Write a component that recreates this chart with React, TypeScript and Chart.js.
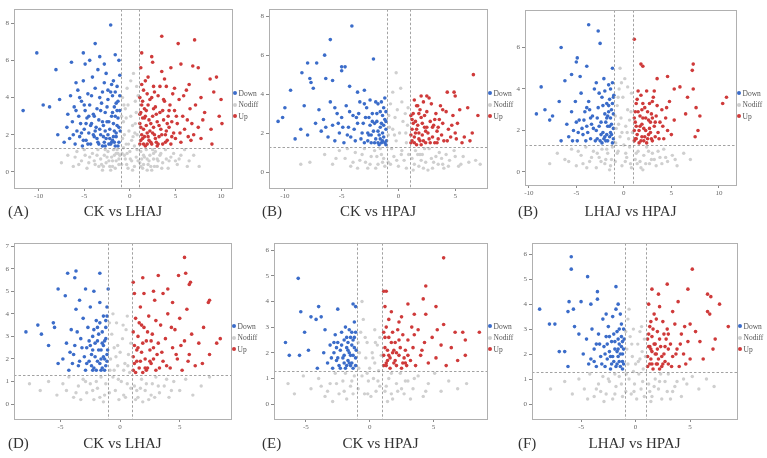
import React, { useEffect, useRef } from "react";
import { Chart, registerables } from "chart.js";
Chart.register(...registerables);

// ---------- data (flat x,y pairs: log2FC, -log10 p) ----------
const A_DOWN = [-11.7,3.3,-10.2,6.4,-9.5,3.6,-8.8,3.5,-8.1,5.5,-7.9,2.0,-7.7,3.9,-6.4,5.9,-5.9,4.8,-5.1,6.4,-4.9,5.8,-3.8,6.9,-3.3,6.2,-2.1,7.9,-1.6,6.3,-2.8,5.8,
-7.2,1.6,-6.9,2.4,-6.8,3.1,-6.6,1.8,-6.5,4.1,-6.3,2.7,-6.1,3.5,-6.0,1.5,-5.8,2.2,-5.7,4.4,-5.6,3.0,-5.5,1.9,-5.4,2.6,-5.3,3.8,-5.2,1.4,-5.1,4.9,-5.0,2.3,-4.9,3.3,-4.8,1.7,-4.7,2.9,-4.6,4.2,-4.5,2.1,-4.4,3.6,-4.3,1.5,-4.2,2.6,-4.1,5.1,-4.0,3.1,-3.9,1.9,-3.8,4.5,-3.7,2.4,-3.6,3.4,-3.5,1.6,-3.4,2.8,-3.3,4.0,-3.2,2.0,-3.1,3.7,-3.0,1.4,-2.9,2.5,-2.8,4.8,-2.7,3.2,-2.6,1.8,-2.5,2.7,-2.4,3.9,-2.3,1.5,-2.2,2.3,-2.1,4.3,-2.0,3.0,-1.9,1.7,-1.8,2.6,-1.7,3.5,-1.6,1.4,-1.5,2.1,-1.4,4.6,-1.3,2.9,-1.2,1.6,-1.1,3.3,-1.05,2.2,-1.1,5.2,-1.3,3.8,-1.5,1.9,-1.7,2.2,-2.0,1.6,-2.4,2.0,-2.8,1.6,-3.3,2.3,-3.8,2.2,-4.3,2.5,-4.8,2.6,-5.3,2.1,-1.9,4.1,-2.6,5.3,-3.5,5.5,-4.4,6.0,-1.2,6.0,-1.4,2.5,-1.8,1.9,-2.2,1.8,-2.7,2.2,-3.0,2.7,-1.6,3.0,
-5.9,3.3,-5.5,4.0,-5.0,3.6,-4.6,1.5,-4.2,4.1,-3.9,3.0,-3.6,1.8,-3.2,3.3,-2.9,1.9,-2.5,3.5,-2.3,2.7,-2.1,1.5,-1.9,3.2,-1.7,1.6,-1.5,3.7,-1.3,1.4,-1.2,2.4,-1.1,4.1,-1.4,3.3,-1.6,4.3,-2.0,4.7,-2.4,4.4,-3.0,4.3,-3.4,1.5,-4.0,2.0,-4.5,3.0,-5.1,1.7,-6.2,2.0,-1.8,4.9,-2.7,1.4];
const A_UP = [3.5,7.3,5.3,6.9,7.1,7.1,2.4,6.2,1.3,6.4,5.6,5.8,6.9,5.7,7.5,5.6,8.8,5.0,9.5,5.1,9.2,4.3,10.0,3.9,9.8,3.0,10.1,2.6,8.9,2.3,9.0,1.5,8.2,3.2,7.8,4.0,7.0,2.0,6.5,4.7,
1.1,1.5,1.2,2.4,1.3,3.6,1.4,1.8,1.5,4.4,1.6,2.9,1.7,1.4,1.8,3.3,1.9,2.1,2.0,5.1,2.1,1.7,2.2,3.9,2.3,2.6,2.4,1.5,2.5,3.0,2.6,4.6,2.7,2.0,2.8,3.5,2.9,1.6,3.0,2.7,3.1,4.1,3.2,1.9,3.3,3.2,3.4,2.3,3.5,5.4,3.6,1.5,3.7,2.8,3.8,3.8,3.9,2.0,4.0,4.6,4.1,1.7,4.2,3.0,4.3,2.4,4.4,3.6,4.5,1.5,4.6,2.7,4.7,4.2,4.8,2.1,4.9,3.3,5.0,1.8,5.2,2.6,5.4,3.9,5.6,1.6,5.8,3.0,6.0,2.3,6.2,4.4,6.4,1.9,6.6,3.4,6.8,2.6,7.2,3.6,7.5,2.4,7.8,1.8,8.0,2.8,1.1,4.0,1.2,5.6,1.3,2.0,1.5,2.3,1.6,3.4,1.9,1.5,2.2,2.2,2.4,4.0,2.8,1.8,3.2,2.5,3.6,3.3,1.4,2.9,1.8,2.5,2.0,1.9,2.6,2.4,3.0,1.4,4.0,2.2,1.1,3.1,1.7,4.9,2.5,5.9,3.8,5.0,4.5,5.6,
1.1,2.6,1.2,1.7,1.3,4.7,1.4,3.8,1.6,1.9,1.7,3.0,1.9,4.2,2.1,2.8,2.3,1.6,2.5,2.1,2.7,4.3,2.9,3.1,3.1,1.5,3.3,4.6,3.5,2.0,3.7,3.9,3.9,1.6,4.1,2.6,4.3,3.3,4.6,1.9,4.9,4.5,5.1,3.0,5.5,2.1,5.9,4.1,6.3,2.8,6.7,1.7,1.2,3.2,1.5,1.5,2.0,3.6,2.6,3.4];
const A_NODIFF = [-0.9,0.4,-0.8,1.8,-0.7,2.7,-0.6,0.9,-0.5,3.4,-0.4,1.5,-0.3,4.5,-0.2,0.2,-0.1,2.2,0.0,1.1,0.1,3.0,0.2,0.6,0.3,2.5,0.4,5.3,0.5,1.4,0.6,3.8,0.7,0.8,0.8,2.0,0.9,4.1,-0.9,3.0,-0.6,2.0,-0.3,1.0,0.2,1.7,0.5,0.3,0.8,1.2,-0.8,4.0,0.6,2.6,-0.4,2.9,0.1,4.9,0.3,0.1,-0.7,1.3,0.9,0.6,-0.2,3.6,0.7,3.2,-0.5,0.7,
-7.5,0.5,-6.8,0.9,-6.2,0.3,-5.8,1.1,-5.3,0.6,-5.0,1.2,-4.7,0.2,-4.4,0.8,-4.1,1.0,-3.8,0.4,-3.5,1.2,-3.2,0.7,-3.0,0.1,-2.8,0.9,-2.6,0.5,-2.4,1.1,-2.2,0.3,-2.0,0.8,-1.8,1.2,-1.6,0.2,-1.5,0.6,-1.3,1.0,-1.2,0.4,-1.1,0.9,1.1,0.5,1.2,1.1,1.4,0.2,1.6,0.8,1.8,1.2,2.0,0.4,2.2,0.9,2.4,0.1,2.6,0.7,2.8,1.1,3.0,0.3,3.3,0.9,3.6,0.5,3.9,1.2,4.2,0.2,4.5,0.8,4.8,1.0,5.2,0.4,5.6,0.9,6.0,1.2,6.5,0.6,7.0,0.9,7.6,0.3,-3.4,0.3,-2.1,0.1,-1.9,0.6,-1.4,1.2,1.5,0.4,1.9,0.1,2.5,1.2,3.1,0.6,4.0,0.7,-4.9,0.9,-3.9,0.6,-2.9,0.3,-2.5,0.8,-1.7,0.9,1.3,0.7,2.1,0.6,2.7,0.3,3.4,1.0,5.0,0.6,
-4.5,0.5,-3.6,0.9,-3.1,0.4,-2.7,1.2,-2.3,0.6,-1.9,0.3,-1.5,1.0,-1.2,0.7,1.2,0.3,1.5,0.9,1.9,0.7,2.3,0.3,2.6,1.0,3.0,0.7,3.5,0.2,4.3,0.6,5.4,0.7,-5.6,0.4,-0.85,1.0,-0.35,0.4,0.35,1.9,0.75,4.6,-0.65,3.6,0.05,0.7,-0.15,1.5,0.55,2.1,-6.0,0.8,6.3,0.3];

const B_DOWN = [-4.1,7.5,-6.0,6.8,-6.5,6.0,-7.2,5.6,-8.0,5.6,-2.2,5.8,-5.0,5.4,-4.7,5.4,-5.0,5.2,-6.4,4.8,-5.8,4.7,-8.5,5.1,-7.8,4.8,-7.7,4.6,-9.5,4.2,-10.0,3.3,-10.2,2.8,-10.6,2.6,-9.1,1.7,-8.6,2.2,-8.3,3.4,-7.5,4.3,-4.3,4.4,-3.0,4.2,-3.6,4.1,
-7.0,3.2,-6.8,2.1,-6.6,2.7,-6.2,1.8,-6.0,3.6,-5.8,2.4,-5.6,1.6,-5.4,3.0,-5.2,2.0,-5.0,2.8,-4.8,1.5,-4.6,3.4,-4.4,2.3,-4.2,1.8,-4.0,2.9,-3.8,1.6,-3.6,2.5,-3.4,3.6,-3.2,2.0,-3.0,1.5,-2.9,2.8,-2.8,3.3,-2.6,1.9,-2.5,2.4,-2.4,1.5,-2.3,3.0,-2.2,2.1,-2.0,1.7,-1.9,2.6,-1.8,3.5,-1.7,1.9,-1.6,2.3,-1.5,1.5,-1.4,2.9,-1.3,1.8,-1.2,3.8,-1.1,2.2,-1.05,1.6,-1.2,2.7,-1.4,2.0,-1.6,3.1,-1.8,1.5,-2.1,2.5,-2.7,2.0,-3.3,1.7,-3.9,2.2,-4.5,1.9,-5.3,2.5,-7.3,2.5,-8.0,1.9,-2.0,3.6,-1.3,3.3,-3.5,3.0,-2.4,1.9,-1.7,1.4,-1.1,1.4,-1.5,2.5,-2.6,2.8,
-2.1,1.5,-1.9,3.0,-1.6,1.7,-1.3,2.4,-1.2,1.5,-1.1,3.1,-1.5,3.6,-2.3,2.6,-2.7,1.6,-3.1,2.5,-3.7,2.8,-4.3,3.1,-4.9,2.3,-5.6,3.3,-6.4,2.3,-2.5,3.7,-1.8,2.1,-3.0,3.5,-1.4,1.6,-1.1,2.6];
const B_UP = [6.6,5.0,4.3,4.1,4.9,4.1,5.0,3.9,2.5,3.9,7.0,2.9,6.5,2.0,6.3,1.6,6.1,3.3,5.2,2.5,5.8,1.8,
1.1,1.5,1.2,2.2,1.3,3.0,1.4,1.8,1.5,2.6,1.6,1.4,1.7,3.4,1.8,2.0,1.9,1.6,2.0,2.8,2.1,1.9,2.2,3.6,2.3,2.3,2.4,1.5,2.5,3.1,2.6,2.0,2.7,1.7,2.8,2.6,2.9,3.5,3.0,1.8,3.1,2.4,3.2,1.5,3.3,3.0,3.4,2.1,3.5,1.7,3.6,2.7,3.7,3.4,3.8,1.9,3.9,2.5,4.0,1.6,4.2,3.1,4.4,2.2,4.6,1.8,4.8,2.9,5.0,2.0,5.4,3.2,5.6,1.5,1.1,2.9,1.2,1.6,1.4,3.7,1.5,2.0,1.7,2.4,2.0,1.4,2.3,2.9,2.7,3.8,3.0,2.3,1.3,2.5,1.8,1.7,1.9,3.2,2.4,2.1,
1.1,1.9,1.2,2.7,1.4,1.5,1.6,2.2,1.8,3.0,2.1,2.5,2.2,1.6,2.5,2.3,2.8,1.5,3.2,2.7,3.5,2.3,3.9,3.2,4.3,1.6,4.7,2.4,5.1,1.7,1.6,3.4,2.0,3.9,3.4,1.5];
const B_NODIFF = [-0.9,0.5,-0.8,2.3,-0.7,3.5,-0.6,1.2,-0.5,4.1,-0.4,0.8,-0.3,2.8,-0.2,1.6,-0.1,3.2,0.0,0.3,0.1,2.0,0.2,4.3,0.3,1.1,0.4,2.6,0.5,0.6,0.6,3.0,0.7,1.5,0.8,2.4,0.9,0.9,-0.9,1.9,-0.5,2.2,-0.2,5.1,0.3,3.6,0.7,0.2,-0.7,0.4,
-8.6,0.4,-7.8,0.5,-6.5,0.9,-5.8,0.4,-5.2,1.1,-4.7,0.7,-4.2,0.3,-3.8,1.0,-3.4,0.6,-3.0,1.2,-2.7,0.2,-2.4,0.8,-2.1,1.1,-1.8,0.4,-1.5,0.9,-1.2,0.3,1.2,0.7,1.5,1.1,1.8,0.3,2.1,0.9,2.4,0.5,2.7,1.2,3.0,0.2,3.3,0.8,3.6,1.0,3.9,0.4,4.2,0.9,4.5,0.6,4.9,1.1,5.3,0.3,5.7,0.8,6.2,0.5,6.8,0.6,7.2,0.4,-2.9,0.5,-2.0,0.2,-1.6,1.2,1.3,0.1,2.0,0.6,2.6,0.1,3.1,0.5,3.8,0.7,-4.5,1.2,-3.6,0.2,-1.3,0.7,1.7,0.9,2.3,1.2,4.0,0.2,-5.5,0.7,5.0,0.8,
-3.2,0.9,-2.5,0.4,-1.9,0.8,-1.4,0.5,1.4,0.4,1.9,0.9,2.2,0.2,2.9,0.7,3.5,0.4,4.4,0.3,-4.0,0.5,-0.85,2.9,-0.35,1.9,0.25,0.9,0.65,2.0,0.85,3.3,-0.15,0.6,5.5,0.4];

const C_DOWN = [-3.7,7.1,-2.7,6.8,-2.5,6.2,-6.6,6.0,-4.9,5.5,-5.0,5.3,-3.9,5.1,-1.2,5.0,-5.5,4.7,-6.2,4.4,-8.7,4.1,-9.2,2.8,-8.3,3.0,-7.8,2.5,-7.5,2.7,-6.8,3.4,-4.6,4.6,-2.1,4.5,-2.9,4.3,
-6.6,1.5,-6.0,2.3,-5.8,1.7,-5.5,2.9,-5.3,2.0,-5.1,3.4,-4.9,1.5,-4.7,2.5,-4.5,3.8,-4.3,1.8,-4.1,2.9,-3.9,2.2,-3.7,3.4,-3.5,1.6,-3.3,2.7,-3.1,4.0,-2.9,2.0,-2.7,3.1,-2.5,1.5,-2.4,2.4,-2.3,3.6,-2.2,1.9,-2.0,2.8,-1.9,1.5,-1.8,3.3,-1.7,2.2,-1.6,4.2,-1.5,1.7,-1.4,2.6,-1.3,3.0,-1.2,1.4,-1.1,2.1,-1.05,3.7,-1.2,4.3,-1.4,1.9,-1.6,2.9,-1.9,2.4,-2.1,1.6,-2.6,2.2,-3.0,1.5,-3.4,2.3,-3.8,1.9,-4.4,2.1,-5.0,2.4,-1.1,1.6,-1.3,2.3,-1.5,3.5,-1.8,1.8,-2.8,2.6,-2.0,3.9,-3.6,3.0,-4.0,1.5,-2.3,1.4,-1.7,2.7,
-1.1,2.8,-1.2,3.3,-1.3,1.8,-1.4,4.0,-1.5,2.2,-1.7,1.5,-1.8,2.6,-2.0,1.7,-2.2,3.2,-2.4,1.8,-2.6,3.8,-2.8,1.6,-3.2,2.1,-3.5,2.6,-3.9,3.1,-4.2,2.5,-4.8,1.9,-5.4,1.5,-1.1,3.6,-1.6,3.2];
const C_UP = [10.8,3.6,10.4,3.3,7.3,5.2,7.2,4.9,5.9,4.1,7.3,4.0,7.6,3.1,8.0,2.7,7.8,2.0,7.5,1.7,6.5,2.8,6.7,3.6,2.0,5.1,3.5,4.5,4.6,4.6,5.3,4.0,1.1,6.4,1.8,5.2,
1.1,1.5,1.2,2.4,1.3,3.3,1.4,1.8,1.5,2.9,1.6,1.4,1.7,2.2,1.8,3.7,1.9,1.7,2.0,2.6,2.1,1.5,2.2,3.1,2.3,2.0,2.4,3.9,2.5,1.6,2.6,2.5,2.7,3.3,2.8,1.9,2.9,2.8,3.0,1.5,3.1,3.6,3.2,2.2,3.3,1.7,3.4,2.7,3.5,3.2,3.6,1.9,3.8,2.4,4.0,3.0,4.2,1.6,4.4,2.6,4.6,2.0,4.8,3.4,5.0,1.8,5.3,2.5,1.1,2.0,1.3,1.6,1.5,3.9,1.7,2.7,2.1,2.1,2.4,1.4,2.8,2.4,3.2,3.9,1.2,2.9,1.9,2.3,2.6,1.8,3.0,2.6,
1.1,2.6,1.2,1.6,1.4,3.5,1.6,2.0,1.8,1.5,2.0,3.3,2.2,1.7,2.5,2.9,2.7,2.1,3.0,3.4,3.3,2.4,3.7,1.6,4.1,2.2,4.5,3.1,1.3,2.2,1.9,3.0,2.3,2.6,2.9,1.6];
const C_NODIFF = [-0.9,0.5,-0.8,2.1,-0.7,3.2,-0.6,1.0,-0.5,4.0,-0.4,1.7,-0.3,2.6,-0.2,0.3,-0.1,3.6,0.0,1.3,0.1,4.5,0.2,2.2,0.3,0.7,0.4,3.0,0.5,1.6,0.6,2.5,0.7,0.4,0.8,3.8,0.9,1.9,-0.9,2.7,-0.6,3.6,-0.2,1.9,0.2,0.9,0.6,1.2,-0.4,5.0,0.4,4.1,-0.7,0.9,0.8,0.2,
-7.8,0.4,-7.0,0.9,-6.2,0.6,-5.5,1.1,-5.0,0.3,-4.5,0.8,-4.0,1.2,-3.6,0.5,-3.2,1.0,-2.9,0.2,-2.6,0.7,-2.3,1.1,-2.0,0.4,-1.7,0.9,-1.4,0.3,-1.2,1.2,1.2,0.6,1.5,1.0,1.8,0.2,2.1,0.8,2.4,1.2,2.7,0.4,3.0,0.9,3.4,0.3,3.8,0.7,4.2,1.1,4.6,0.5,5.1,0.8,5.6,0.3,6.3,0.9,7.0,0.6,-3.9,0.2,-2.8,0.9,-1.9,0.6,-1.5,0.1,1.4,0.4,2.0,0.1,2.6,1.0,3.2,0.6,-5.8,0.5,4.0,0.4,-4.8,1.0,
-3.4,0.7,-2.4,0.5,-1.8,1.1,-1.3,0.6,1.3,0.9,1.7,0.5,2.3,0.4,2.9,0.6,3.6,1.0,4.4,0.7,-4.3,0.4,-0.85,1.4,-0.25,4.3,0.35,1.9,0.75,2.9,-0.55,2.3,0.15,0.5,5.4,0.6];

const D_DOWN = [-4.4,5.8,-3.7,5.9,-1.7,5.8,-3.8,5.6,-5.2,5.1,-2.9,5.1,-7.9,3.2,-6.9,3.5,-6.6,3.1,-5.6,3.6,-5.5,3.4,-6.0,2.6,-5.2,1.8,-4.6,4.8,-2.2,5.0,-3.4,4.6,-1.0,5.1,
-4.8,2.0,-4.5,2.7,-4.3,1.5,-4.1,3.3,-3.9,2.2,-3.7,4.2,-3.5,1.7,-3.3,2.9,-3.1,3.8,-2.9,1.5,-2.8,2.5,-2.7,3.4,-2.6,1.9,-2.5,4.3,-2.4,2.2,-2.3,3.0,-2.2,1.6,-2.1,2.7,-2.0,3.7,-1.9,1.9,-1.8,2.4,-1.7,4.5,-1.6,1.5,-1.5,3.2,-1.4,2.1,-1.3,2.8,-1.2,1.7,-1.1,3.9,-1.05,2.4,-1.1,4.3,-1.2,3.4,-1.3,1.5,-1.4,2.6,-1.6,2.0,-1.8,3.1,-2.0,1.5,-2.3,2.4,-2.6,2.8,-3.0,2.1,-3.4,1.9,-3.8,2.6,-4.2,2.3,-1.1,1.9,-1.5,1.6,-1.9,2.8,-2.4,1.7,-1.2,2.9,-1.7,3.6,
-1.1,2.2,-1.2,3.7,-1.3,2.0,-1.5,2.7,-1.7,1.8,-1.9,3.4,-2.1,2.1,-2.3,1.5,-2.5,2.6,-2.8,1.8,-3.2,2.5,-3.6,3.2,-4.0,1.8,-1.4,3.9,-2.2,3.3,-1.6,2.4];
const D_UP = [5.4,6.5,5.5,5.8,3.2,5.7,1.9,5.6,4.9,5.7,5.9,5.4,5.8,5.3,7.4,4.5,7.5,4.6,8.4,2.9,8.1,2.7,7.5,2.2,6.9,1.8,1.1,5.4,4.0,5.1,2.8,5.0,
1.1,1.5,1.2,2.6,1.3,3.8,1.4,1.9,1.5,3.0,1.6,1.6,1.7,4.3,1.8,2.3,1.9,1.4,2.0,3.4,2.1,2.0,2.2,2.8,2.3,1.6,2.4,3.9,2.5,2.4,2.6,1.8,2.7,3.1,2.8,2.0,2.9,4.6,3.0,1.5,3.2,2.7,3.4,3.5,3.6,1.9,3.8,2.9,4.0,4.0,4.2,1.6,4.4,2.5,4.6,3.3,4.8,2.0,5.0,3.8,5.2,1.5,5.4,2.8,5.6,4.2,5.8,2.2,6.0,3.1,6.3,1.7,6.6,2.7,7.0,3.4,1.1,2.1,1.3,1.4,1.5,2.5,1.8,3.5,2.2,1.5,2.6,2.8,3.1,2.2,1.2,4.9,2.0,4.9,3.6,4.9,4.4,4.5,
1.1,3.2,1.2,1.8,1.4,2.4,1.6,3.6,1.7,1.9,1.9,2.7,2.1,1.6,2.3,3.2,2.5,1.9,2.8,2.5,3.0,3.7,3.3,1.6,3.5,2.3,3.9,1.7,4.3,3.4,4.7,2.2,5.1,2.6,5.7,1.9];
const D_NODIFF = [-0.9,0.5,-0.8,2.0,-0.7,3.1,-0.6,1.2,-0.5,2.5,-0.4,0.6,-0.3,3.6,-0.2,1.7,-0.1,0.2,0.0,2.3,0.1,1.0,0.2,2.9,0.3,0.4,0.4,1.8,0.5,3.3,0.6,0.9,0.7,2.2,0.8,1.4,0.9,2.7,-0.9,3.6,-0.6,4.0,0.6,3.9,-0.2,2.6,0.3,1.5,0.9,0.7,-0.5,1.5,
-7.6,0.9,-6.7,0.6,-6.0,1.0,-5.3,0.4,-4.8,0.9,-4.3,1.2,-3.9,0.3,-3.5,0.8,-3.1,1.1,-2.8,0.5,-2.5,0.9,-2.2,0.2,-1.9,0.7,-1.6,1.2,-1.3,0.4,1.2,0.8,1.5,0.3,1.8,1.1,2.1,0.6,2.4,0.2,2.7,0.9,3.0,1.2,3.3,0.5,3.7,0.8,4.1,0.3,4.5,1.0,5.0,0.6,5.5,1.1,6.1,0.4,6.8,0.8,7.5,1.2,-2.0,1.0,-1.4,0.1,1.4,0.6,1.9,0.1,2.9,0.3,-3.3,0.2,3.9,1.1,
-3.7,0.5,-2.9,1.0,-2.3,0.6,-1.7,0.3,-1.2,0.9,1.3,0.2,1.7,0.7,2.2,0.9,2.6,0.4,3.2,0.8,4.3,0.6,-0.85,1.5,-0.35,2.1,0.25,3.5,0.65,1.7,-0.15,1.1,0.45,0.3,-4.5,0.6];

const E_DOWN = [-5.6,4.9,-5.4,3.6,-4.0,3.8,-6.6,2.4,-6.3,1.9,-5.1,2.8,-5.5,1.9,-4.6,3.4,-4.2,3.3,-3.8,3.4,-2.5,3.7,-1.3,3.9,-1.1,3.8,-4.1,1.4,-4.8,2.1,-3.5,2.9,
-3.3,1.6,-3.1,2.3,-2.9,1.4,-2.8,2.0,-2.7,2.7,-2.6,1.7,-2.5,2.4,-2.4,1.5,-2.3,2.1,-2.2,2.8,-2.1,1.8,-2.0,2.5,-1.9,1.4,-1.8,2.2,-1.7,1.7,-1.6,2.9,-1.5,1.5,-1.4,2.3,-1.3,1.9,-1.2,2.6,-1.1,1.5,-1.05,2.1,-1.2,3.2,-1.4,1.6,-1.6,2.0,-1.8,1.5,-2.0,1.9,-2.3,1.4,-2.6,2.2,-1.1,2.8,-1.3,1.4,-1.5,2.6,-1.7,2.4,-1.9,3.0,-3.6,2.0,-3.0,1.8,
-1.1,1.8,-1.2,2.2,-1.4,2.8,-1.6,1.6,-1.8,2.6,-2.0,1.6,-2.2,2.3,-2.5,1.8,-2.8,2.4,-1.3,2.5,-1.5,1.9,-1.7,2.1];
const E_UP = [5.8,5.7,4.4,4.6,4.2,4.1,5.2,3.8,3.0,3.9,1.1,4.4,1.3,4.4,8.6,2.8,7.5,2.5,7.3,2.8,6.7,2.8,7.5,1.9,6.4,2.2,6.9,1.7,5.8,3.1,5.3,2.9,3.5,3.5,4.4,3.5,2.3,3.2,
1.1,1.5,1.2,2.2,1.3,3.0,1.4,1.7,1.5,2.6,1.6,1.4,1.7,3.6,1.8,2.0,1.9,1.6,2.0,2.4,2.1,1.5,2.2,2.9,2.3,1.9,2.4,2.2,2.5,1.4,2.6,2.7,2.7,1.8,2.8,2.1,2.9,1.5,3.0,2.5,3.2,1.7,3.4,2.2,3.6,1.5,3.8,2.9,4.0,1.9,4.3,2.4,4.6,1.6,4.9,2.6,5.2,1.8,5.6,2.3,6.0,1.5,1.1,2.8,1.3,1.6,1.5,1.9,1.8,2.8,2.1,2.0,2.5,3.4,2.8,1.6,3.3,3.0,1.2,3.8,
1.1,1.9,1.2,2.6,1.4,2.1,1.6,1.8,1.7,2.4,1.9,2.1,2.0,1.7,2.3,2.5,2.6,1.6,3.0,1.9,3.5,2.7,4.1,2.1,1.3,1.5,1.5,3.3];
const E_NODIFF = [-0.9,0.6,-0.8,2.0,-0.7,2.8,-0.6,1.1,-0.5,3.3,-0.4,0.4,-0.3,1.8,-0.2,2.4,-0.1,0.9,0.0,1.4,0.1,0.3,0.2,2.0,0.3,1.0,0.4,1.6,0.5,0.5,0.6,2.3,0.7,1.3,0.8,0.7,0.9,1.9,-0.9,2.4,-0.6,4.0,-0.2,1.2,0.4,2.9,0.8,2.6,
-6.4,0.8,-5.9,0.4,-5.2,1.1,-4.6,0.6,-4.0,1.0,-3.5,0.3,-3.1,0.8,-2.7,1.2,-2.4,0.4,-2.1,0.9,-1.8,0.2,-1.5,0.7,-1.2,1.1,1.2,0.5,1.5,1.0,1.8,0.2,2.1,0.8,2.4,1.2,2.7,0.4,3.0,0.9,3.4,0.6,3.8,1.1,4.2,0.3,4.6,0.8,5.1,1.2,5.6,0.5,6.2,0.9,6.9,0.6,7.6,0.8,-2.9,0.1,-1.9,1.2,1.4,0.1,2.5,0.6,3.2,0.2,-3.8,0.7,1.7,1.2,-1.3,0.4,
-3.3,0.5,-2.6,0.8,-2.0,0.5,-1.4,0.9,1.3,0.7,1.7,0.4,2.2,0.5,2.8,0.9,3.5,1.0,4.4,0.5,-0.85,1.4,-0.35,2.6,0.25,1.8,0.65,0.9,-0.15,0.4,0.45,2.4];

const F_DOWN = [-5.9,5.9,-5.9,5.4,-4.4,5.1,-1.8,4.7,-3.5,4.5,-8.8,3.8,-7.9,3.2,-7.4,3.2,-7.0,2.1,-6.5,2.1,-6.2,1.5,-6.1,4.1,-5.7,3.8,-5.0,4.1,-4.1,4.0,-3.5,4.2,-1.6,4.0,-6.2,3.7,-5.6,3.1,-5.2,2.8,
-4.8,2.0,-4.5,2.6,-4.3,1.6,-4.0,3.0,-3.8,2.2,-3.6,1.5,-3.4,2.8,-3.2,1.9,-3.0,3.4,-2.9,2.3,-2.8,1.5,-2.7,2.7,-2.6,1.8,-2.5,3.1,-2.4,2.1,-2.3,1.4,-2.2,2.5,-2.1,3.5,-2.0,1.7,-1.9,2.2,-1.8,1.5,-1.7,2.9,-1.6,1.9,-1.5,2.4,-1.4,1.5,-1.3,3.2,-1.2,2.0,-1.1,1.6,-1.05,2.6,-1.2,1.4,-1.3,2.3,-1.5,1.7,-1.7,2.1,-2.0,2.8,-2.3,1.9,-2.6,2.4,-3.1,1.6,-3.6,2.4,-4.1,1.8,-1.1,3.0,-1.4,3.6,-1.8,3.8,-2.7,3.6,
-1.1,2.2,-1.2,1.7,-1.3,2.7,-1.4,2.0,-1.6,2.6,-1.7,1.6,-1.9,2.5,-2.1,1.9,-2.4,2.7,-2.8,2.0,-3.3,2.4,-3.8,1.7,-1.2,2.5,-1.5,3.0,-2.2,1.6,-1.6,2.2];
const F_UP = [5.2,5.4,2.9,4.8,6.6,4.4,6.9,4.3,7.7,4.0,6.6,3.7,6.8,3.6,8.5,3.1,7.3,2.6,7.1,2.2,6.2,1.8,5.9,2.5,4.8,4.6,3.9,4.1,1.5,4.6,2.1,4.4,5.0,3.2,5.5,2.9,
1.1,1.5,1.2,2.3,1.3,3.1,1.4,1.8,1.5,2.7,1.6,1.4,1.7,3.6,1.8,2.0,1.9,1.6,2.0,2.9,2.1,1.8,2.2,3.9,2.3,2.3,2.4,1.5,2.5,3.3,2.6,2.0,2.7,1.7,2.8,2.6,2.9,3.0,3.0,1.6,3.2,2.4,3.4,1.9,3.6,3.2,3.8,2.2,4.0,1.5,4.2,2.8,4.4,2.0,4.6,1.6,4.8,2.5,5.0,1.8,1.1,2.6,1.2,4.0,1.3,1.6,1.5,2.1,1.7,2.4,1.9,3.4,2.2,1.4,2.6,2.8,3.0,2.2,3.4,3.7,1.4,3.3,2.0,2.2,
1.1,1.9,1.2,2.8,1.3,2.3,1.5,1.6,1.6,3.0,1.8,2.4,2.0,1.6,2.2,2.6,2.4,1.9,2.7,2.3,3.0,2.8,3.3,1.5,3.7,2.0,4.1,2.4,4.5,3.1,1.4,2.2,1.9,2.0,2.5,1.6];
const F_NODIFF = [-0.9,0.5,-0.8,2.2,-0.7,3.4,-0.6,1.0,-0.5,2.7,-0.4,0.4,-0.3,1.9,-0.2,3.0,-0.1,0.8,0.0,1.6,0.1,0.2,0.2,2.4,0.3,1.2,0.4,1.8,0.5,0.6,0.6,2.1,0.7,1.4,0.8,0.3,0.9,1.9,-0.9,2.9,-0.6,3.8,-0.2,1.3,0.4,2.9,0.8,2.6,-0.7,1.6,
-7.8,0.6,-6.5,0.9,-5.8,0.4,-5.2,1.0,-4.7,0.6,-4.2,1.2,-3.8,0.3,-3.4,0.8,-3.0,1.1,-2.7,0.4,-2.4,0.9,-2.1,0.2,-1.8,0.7,-1.5,1.1,-1.2,0.3,1.2,0.8,1.5,0.3,1.8,1.0,2.1,0.6,2.4,0.2,2.7,0.9,3.0,1.2,3.4,0.5,3.8,0.9,4.2,0.3,4.7,0.8,5.2,1.1,5.8,0.6,6.5,1.0,7.2,0.7,-2.9,0.1,-1.9,1.2,1.4,0.1,2.3,1.2,3.2,0.2,-3.6,0.6,-4.4,0.2,
-3.2,0.5,-2.5,1.0,-1.9,0.4,-1.3,0.8,1.3,0.5,1.7,0.7,2.2,0.9,2.9,0.5,3.6,0.7,4.4,1.0,-0.85,1.2,-0.35,2.4,0.25,1.7,0.65,0.9,-0.15,0.5,0.55,3.1];

const LEGEND_LABELS = ["Down", "Nodiff", "Up"];
const TAGS = ["(A)", "(B)", "(B)", "(D)", "(E)", "(F)"];
const TITLES = ["CK vs LHAJ", "CK vs HPAJ", "LHAJ vs HPAJ", "CK vs LHAJ", "CK vs HPAJ", "LHAJ vs HPAJ"];
const X_TICKS = [[-10, -5, 0, 5, 10], [-10, -5, 0, 5], [-10, -5, 0, 5, 10], [-5, 0, 5], [-5, 0, 5], [-5, 0, 5]];
const Y_TICKS = [[0, 2, 4, 6, 8], [0, 2, 4, 6, 8], [0, 2, 4, 6], [0, 1, 2, 3, 4, 5, 6, 7], [0, 1, 2, 3, 4, 5, 6], [0, 1, 2, 3, 4, 5, 6]];
const FC_CUT = 1;
const P_CUT = 1.3;

const DOWNS = [A_DOWN, B_DOWN, C_DOWN, D_DOWN, E_DOWN, F_DOWN];
const UPS = [A_UP, B_UP, C_UP, D_UP, E_UP, F_UP];
const NODIFFS = [A_NODIFF, B_NODIFF, C_NODIFF, D_NODIFF, E_NODIFF, F_NODIFF];

// ---------- layout (page px) ----------
const BOXES = [
  { l: 14, t: 9, r: 232, b: 188, xr: [-12.7, 11.2], yr: [-0.86, 8.75], legY: 93, titleY: 211 },
  { l: 269, t: 9, r: 487, b: 188, xr: [-11.4, 7.8], yr: [-0.82, 8.36], legY: 93, titleY: 211 },
  { l: 525, t: 10, r: 736, b: 185, xr: [-10.4, 11.8], yr: [-0.63, 7.8], legY: 93, titleY: 211 },
  { l: 14, t: 243, r: 231, b: 419, xr: [-8.9, 9.3], yr: [-0.66, 7.13], legY: 326, titleY: 443 },
  { l: 274, t: 243, r: 487, b: 419, xr: [-7.5, 9.2], yr: [-0.58, 6.27], legY: 326, titleY: 443 },
  { l: 532, t: 243, r: 737, b: 419, xr: [-9.5, 9.3], yr: [-0.6, 6.44], legY: 326, titleY: 443 },
];
const TAG_X = [8, 262, 518, 8, 262, 518];

const BLUE = "#3b6cc9";
const RED = "#cf3a3a";
const GREY = "#cfcfcf";
const SERIF = "'Liberation Serif', 'Times New Roman', serif";

const toPts = (a: number[]) => {
  const out: { x: number; y: number }[] = [];
  for (let i = 0; i + 1 < a.length; i += 2) out.push({ x: a[i], y: a[i + 1] });
  return out;
};

const Y_AXIS_W = 14;
const X_AXIS_H = 14;
const PAD_T = 6;
const PAD_R = 4;

function Panel({ idx }: { idx: number }) {
  const ref = useRef<HTMLCanvasElement>(null);
  const bx = BOXES[idx];
  const cl = bx.l - Y_AXIS_W;
  const ct = bx.t - PAD_T;
  const cw = bx.r - cl + PAD_R;
  const ch = bx.b - ct + X_AXIS_H;

  useEffect(() => {
    if (!ref.current) return;
    const frame = {
      id: "frame" + idx,
      afterDatasetsDraw(chart: any) {
        const { ctx, chartArea: a, scales } = chart;
        ctx.save();
        ctx.strokeStyle = "#8a8a8a";
        ctx.lineWidth = 0.8;
        ctx.setLineDash([2.5, 2]);
        for (const v of [-FC_CUT, FC_CUT]) {
          const px = Math.round(scales.x.getPixelForValue(v)) + 0.5;
          ctx.beginPath();
          ctx.moveTo(px, a.top);
          ctx.lineTo(px, a.bottom);
          ctx.stroke();
        }
        const py = Math.round(scales.y.getPixelForValue(P_CUT)) + 0.5;
        ctx.beginPath();
        ctx.moveTo(a.left, py);
        ctx.lineTo(a.right, py);
        ctx.stroke();
        ctx.setLineDash([]);
        ctx.strokeStyle = "#b0b0b0";
        ctx.lineWidth = 1;
        ctx.strokeRect(Math.round(a.left) + 0.5, Math.round(a.top) + 0.5, Math.round(a.right - a.left), Math.round(a.bottom - a.top));
        ctx.restore();
      },
    };
    const tickFont = { family: SERIF, size: 7 };
    const chart = new Chart(ref.current, {
      type: "scatter",
      data: {
        datasets: [
          { label: "Down", data: toPts(DOWNS[idx]), backgroundColor: BLUE, pointRadius: 1.8, borderWidth: 0 },
          { label: "Up", data: toPts(UPS[idx]), backgroundColor: RED, pointRadius: 1.8, borderWidth: 0 },
          { label: "Nodiff", data: toPts(NODIFFS[idx]), backgroundColor: GREY, pointRadius: 1.7, borderWidth: 0 },
        ],
      },
      options: {
        animation: false,
        responsive: false,
        maintainAspectRatio: false,
        layout: { padding: { top: PAD_T, right: PAD_R, left: 0, bottom: 0 } },
        plugins: { legend: { display: false }, tooltip: { enabled: false } },
        scales: {
          x: {
            type: "linear",
            min: bx.xr[0],
            max: bx.xr[1],
            afterFit: (s: any) => { s.height = X_AXIS_H; },
            afterBuildTicks: (s: any) => { s.ticks = X_TICKS[idx].map((v) => ({ value: v })); },
            grid: { drawOnChartArea: false, drawTicks: true, tickLength: 3, color: "#8a8a8a" },
            border: { display: false },
            ticks: { font: tickFont, color: "#666", padding: 1, autoSkip: false, maxRotation: 0 },
          },
          y: {
            type: "linear",
            min: bx.yr[0],
            max: bx.yr[1],
            afterFit: (s: any) => { s.width = Y_AXIS_W; },
            afterBuildTicks: (s: any) => { s.ticks = Y_TICKS[idx].map((v) => ({ value: v })); },
            grid: { drawOnChartArea: false, drawTicks: true, tickLength: 3, color: "#8a8a8a" },
            border: { display: false },
            ticks: { font: tickFont, color: "#666", padding: 2, autoSkip: false },
          },
        },
      } as any,
      plugins: [frame],
    });
    return () => chart.destroy();
  }, [idx]);

  const legColors = [BLUE, GREY, RED];
  return (
    <>
      <canvas
        ref={ref}
        width={cw}
        height={ch}
        style={{ position: "absolute", left: cl, top: ct, width: cw, height: ch }}
      />
      {LEGEND_LABELS.map((lab, i) => (
        <div
          key={lab}
          style={{
            position: "absolute",
            left: bx.r + 1,
            top: bx.legY + i * 11.5 - 5,
            height: 10,
            display: "flex",
            alignItems: "center",
            fontFamily: SERIF,
            fontSize: 7.5,
            color: "#555",
            whiteSpace: "nowrap",
          }}
        >
          <span style={{ display: "inline-block", width: 4, height: 4, borderRadius: 2, background: legColors[i], marginRight: 1.5 }} />
          {lab}
        </div>
      ))}
      <div
        style={{
          position: "absolute",
          left: TAG_X[idx],
          top: bx.titleY - 10,
          fontFamily: SERIF,
          fontSize: 15,
          lineHeight: "20px",
          color: "#333",
        }}
      >
        {TAGS[idx]}
      </div>
      <div
        style={{
          position: "absolute",
          left: (bx.l + bx.r) / 2 - 100,
          width: 200,
          textAlign: "center",
          top: bx.titleY - 10,
          fontFamily: SERIF,
          fontSize: 15,
          lineHeight: "20px",
          color: "#333",
        }}
      >
        {TITLES[idx]}
      </div>
    </>
  );
}

export default function App() {
  return (
    <div style={{ position: "absolute", left: 0, top: 0, width: 767, height: 458, background: "#fff", overflow: "hidden" }}>
      {[0, 1, 2, 3, 4, 5].map((i) => (
        <Panel key={i} idx={i} />
      ))}
    </div>
  );
}
